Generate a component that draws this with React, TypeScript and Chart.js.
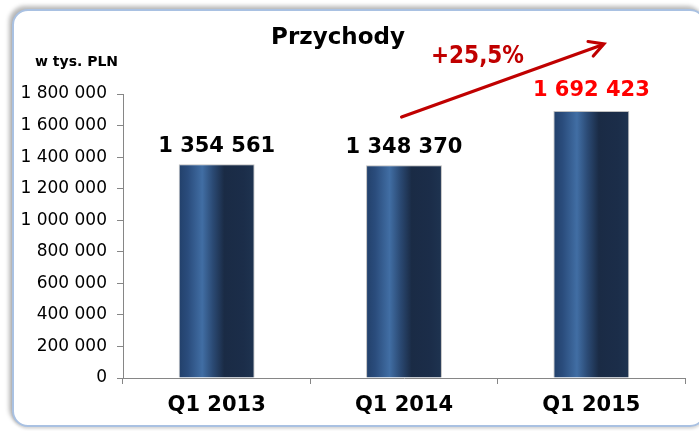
import React, { useEffect, useRef } from "react";
import { Chart, registerables } from "chart.js";

Chart.register(...registerables);

const categories = ["Q1 2013", "Q1 2014", "Q1 2015"];
const revenues = [1354561, 1348370, 1692423];
const labelColors = ["#000000", "#000000", "#FF0000"];
const yTicks = { min: 0, max: 1800000, step: 200000 };
const chartTitle = "Przychody";
const unitLabel = "w tys. PLN";
const growthLabel = "+25,5%";
// arrow endpoints in data space: [category index, value]
const arrowStart = [0.987, 1654000];
const arrowEnd = [2.067, 2117000];

const FONT = "'DejaVu Sans', Verdana, sans-serif";

const fmt = (v: number) => String(v).replace(/\B(?=(\d{3})+(?!\d))/g, " ");

const overlayPlugin = {
  id: "overlay",
  afterDatasetsDraw(chart: any) {
    const ctx = chart.ctx;
    const meta = chart.getDatasetMeta(0);
    ctx.save();
    // data labels
    ctx.font = `bold 21px ${FONT}`;
    ctx.textAlign = "center";
    ctx.textBaseline = "alphabetic";
    meta.data.forEach((bar: any, i: number) => {
      ctx.fillStyle = labelColors[i];
      ctx.fillText(fmt(revenues[i]), bar.x, bar.y - (i === 2 ? 15 : 12));
    });
    // title
    ctx.fillStyle = "#000";
    ctx.font = `bold 23px ${FONT}`;
    ctx.textAlign = "center";
    ctx.fillText(chartTitle, 338, 44);
    // unit
    ctx.font = `bold 14px ${FONT}`;
    ctx.textAlign = "left";
    ctx.fillText(unitLabel, 35, 66);
    // growth
    ctx.fillStyle = "#C00000";
    ctx.font = `bold 24px 'DejaVu Sans Condensed', ${FONT}`;
    ctx.fillText(growthLabel, 431, 63);
    // arrow
    const xs = chart.scales.x;
    const ys = chart.scales.y;
    const x1 = xs.getPixelForValue(arrowStart[0]);
    const y1 = ys.getPixelForValue(arrowStart[1]);
    const x2 = xs.getPixelForValue(arrowEnd[0]);
    const y2 = ys.getPixelForValue(arrowEnd[1]);
    ctx.strokeStyle = "#C00000";
    ctx.lineWidth = 3.2;
    ctx.lineCap = "round";
    ctx.lineJoin = "miter";
    ctx.beginPath();
    ctx.moveTo(x1, y1);
    ctx.lineTo(x2 - 2, y2 + 1);
    ctx.stroke();
    const ang = Math.atan2(y2 - y1, x2 - x1);
    const len = 16;
    const spread = 0.5;
    ctx.beginPath();
    ctx.moveTo(x2 - len * Math.cos(ang - spread), y2 - len * Math.sin(ang - spread));
    ctx.lineTo(x2, y2);
    ctx.lineTo(x2 - len * Math.cos(ang + spread), y2 - len * Math.sin(ang + spread));
    ctx.stroke();
    ctx.restore();
  },
};

function barGradient(context: any) {
  const chart = context.chart;
  const xs = chart.scales?.x;
  if (!chart.chartArea || !xs) return "#23406a";
  const cx = xs.getPixelForValue(context.dataIndex);
  const w = (xs.width / categories.length) * 0.405;
  const left = cx - w / 2;
  const g = chart.ctx.createLinearGradient(left, 0, left + w, 0);
  g.addColorStop(0, "#22406a");
  g.addColorStop(0.12, "#2a4c7c");
  g.addColorStop(0.31, "#416ea4");
  g.addColorStop(0.45, "#2b4a74");
  g.addColorStop(0.6, "#1a2b45");
  g.addColorStop(0.85, "#1b2d49");
  g.addColorStop(1, "#1e3350");
  return g;
}

export default function App() {
  const ref = useRef<HTMLCanvasElement>(null);
  useEffect(() => {
    if (!ref.current) return;
    const chart = new Chart(ref.current, {
      type: "bar",
      data: {
        labels: categories,
        datasets: [
          {
            data: revenues,
            backgroundColor: barGradient,
            borderColor: "rgba(140,140,140,0.55)",
            borderWidth: 1,
            categoryPercentage: 1,
            barPercentage: 0.405,
          },
        ],
      },
      options: {
        responsive: false,
        animation: false,
        layout: { padding: { top: 94, right: 14, left: 0, bottom: 0 } },
        plugins: { legend: { display: false }, tooltip: { enabled: false }, title: { display: false } },
        scales: {
          x: {
            afterFit: (s: any) => {
              s.height = 53;
            },
            grid: { drawOnChartArea: false, offset: true, tickLength: 6, color: "#868686" },
            border: { color: "#868686", width: 1 },
            ticks: { color: "#000", padding: 9, font: { family: FONT, size: 21, weight: "bold" } },
          },
          y: {
            min: yTicks.min,
            max: yTicks.max,
            afterFit: (s: any) => {
              s.width = 123;
            },
            grid: { drawOnChartArea: false, tickLength: 6, color: "#868686" },
            border: { color: "#868686", width: 1 },
            ticks: {
              stepSize: yTicks.step,
              color: "#000",
              padding: 10,
              font: { family: FONT, size: 17 },
              callback: (v: any) => fmt(Number(v)),
            },
          },
        },
      },
      plugins: [overlayPlugin],
    });
    return () => chart.destroy();
  }, []);

  return (
    <div style={{ position: "absolute", left: 0, top: 0, width: 699, height: 431, background: "#fff", overflow: "hidden" }}>
      <div
        style={{
          position: "absolute",
          left: 12,
          top: 9,
          width: 690,
          height: 414,
          border: "2px solid #a9c1e2",
          borderRadius: 16,
          boxShadow: "-3px -3px 4px rgba(0,0,0,0.28), 0 2px 3px rgba(0,0,0,0.15)",
          background: "#fff",
        }}
      />
      <canvas ref={ref} width={699} height={431} style={{ position: "absolute", left: 0, top: 0 }} />
    </div>
  );
}
